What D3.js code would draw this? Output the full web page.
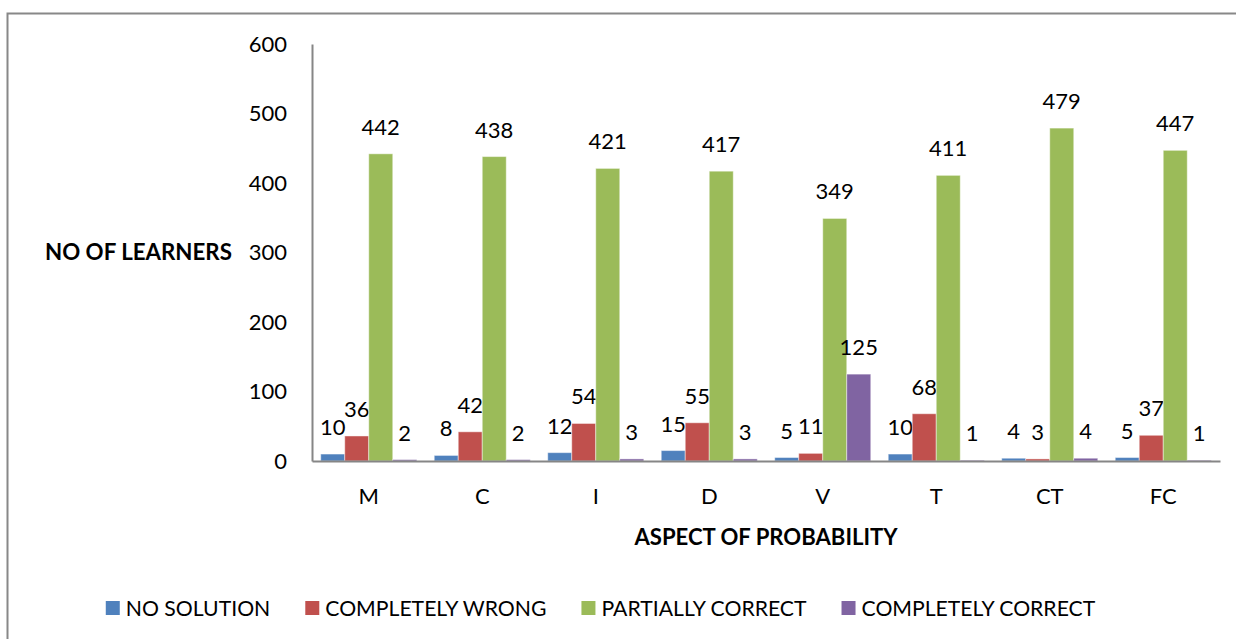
<!DOCTYPE html>
<html><head><meta charset="utf-8">
<script src="https://cdn.jsdelivr.net/npm/d3@7"></script>
<style>
html,body{margin:0;padding:0;background:#fff;}
svg{display:block;font-family:Lato,"Open Sans",sans-serif;}
</style></head>
<body>
<svg id="chart" width="1236" height="639"></svg>
<script>
const categories = ["M","C","I","D","V","T","CT","FC"];
const seriesNames = ["NO SOLUTION","COMPLETELY WRONG","PARTIALLY CORRECT","COMPLETELY CORRECT"];
const noSolution = [10,8,12,15,5,10,4,5];
const completelyWrong = [36,42,54,55,11,68,3,37];
const partiallyCorrect = [442,438,421,417,349,411,479,447];
const completelyCorrect = [2,2,3,3,125,1,4,1];
const yTicks = [0,100,200,300,400,500,600];
const colors = ["#4F81BD","#C0504D","#9BBB59","#8064A2"];

const seriesValues = [noSolution, completelyWrong, partiallyCorrect, completelyCorrect];
const svg = d3.select("#chart");
const FONT = 22;

// outer frame
svg.append("rect").attr("x",7.5).attr("y",13.5).attr("width",1240).attr("height",640)
  .attr("fill","none").attr("stroke","#888").attr("stroke-width",2);

const x0 = 312, x1 = 1220, yTop = 44, yBot = 461;
const x = d3.scaleBand().domain(categories).range([x0,x1]).paddingInner(0.154).paddingOuter(0.077);
const xs = d3.scaleBand().domain(seriesNames).range([0,x.bandwidth()]);
const y = d3.scaleLinear().domain([0,600]).range([yBot,yTop]);

// bars
categories.forEach((c,ci)=>{
  const g = svg.append("g").attr("transform",`translate(${x(c)},0)`);
  seriesNames.forEach((s,si)=>{
    const v = seriesValues[si][ci];
    g.append("rect").attr("x",xs(s)).attr("width",xs.bandwidth())
      .attr("y",y(v)).attr("height",y(0)-y(v))
      .attr("fill",colors[si]).attr("stroke","rgba(255,255,255,0.45)").attr("stroke-width",1);
    g.append("text").attr("x",xs(s)+xs.bandwidth()/2).attr("y",y(v)-19)
      .attr("text-anchor","middle").attr("font-size",FONT).attr("fill","#000").text(v);
  });
});

// axes
const yAxis = d3.axisLeft(y).tickValues(yTicks).tickSize(0).tickPadding(25);
const ya = svg.append("g").attr("transform",`translate(${x0},0)`).call(yAxis);
ya.select(".domain").attr("stroke","#868686").attr("stroke-width",2);
ya.selectAll("text").attr("font-size",FONT).attr("fill","#000").attr("font-family","Lato");

const xAxis = d3.axisBottom(x).tickSize(0).tickPadding(27);
const xa = svg.append("g").attr("transform",`translate(0,${yBot})`).call(xAxis);
xa.select(".domain").attr("stroke","#868686").attr("stroke-width",2);
xa.selectAll("text").attr("font-size",FONT).attr("fill","#000").attr("font-family","Lato");

// axis titles
svg.append("text").attr("x",45).attr("y",260).attr("font-size",22.3).attr("font-weight","bold")
  .text("NO OF LEARNERS");
svg.append("text").attr("x",(x0+x1)/2 - 0).attr("y",545).attr("text-anchor","middle")
  .attr("font-size",22.1).attr("font-weight","bold").text("ASPECT OF PROBABILITY");

// legend
const lg = svg.append("g");
let lx = 0;
seriesNames.forEach((s,i)=>{
  const it = lg.append("g").attr("transform",`translate(${lx},0)`);
  it.append("rect").attr("x",0).attr("y",601).attr("width",14).attr("height",14).attr("fill",colors[i]);
  const t = it.append("text").attr("x",20).attr("y",616).attr("font-size",21.2).text(s);
  lx += 20 + t.node().getComputedTextLength() + 35;
});
const total = lx - 35;
lg.attr("transform",`translate(${600.5 - total/2},0)`);
</script>
</body></html>
